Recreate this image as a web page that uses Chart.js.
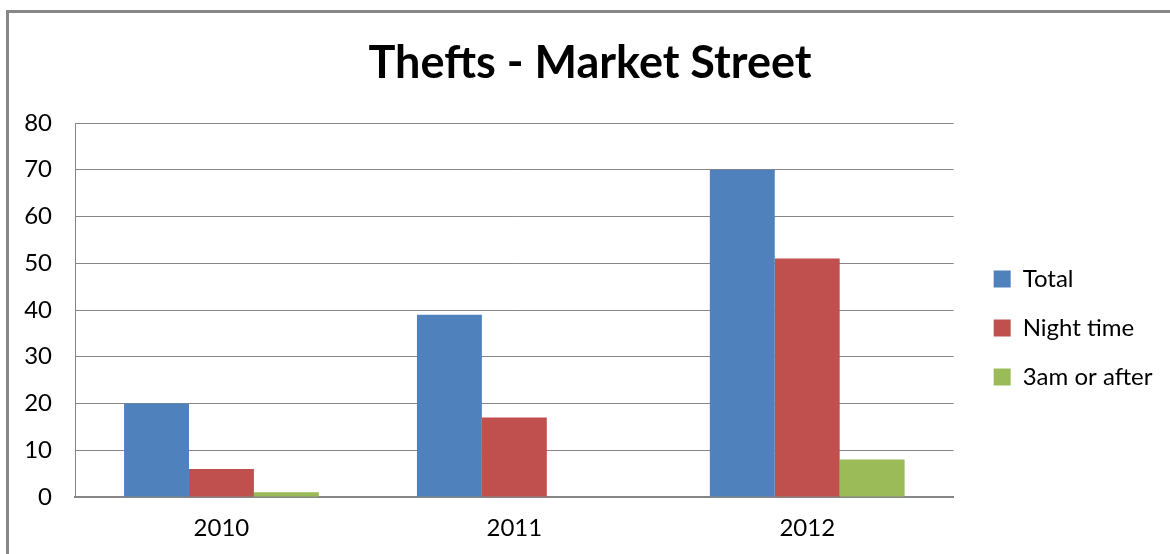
<!DOCTYPE html>
<html>
<head>
<meta charset="utf-8">
<script src="https://cdn.jsdelivr.net/npm/chart.js@4"></script>
<style>
  html, body { margin: 0; padding: 0; background: #fff; overflow: hidden; }
  #wrap { position: relative; width: 1170px; height: 554px; overflow: hidden; }
  #frame {
    position: absolute; left: 6px; top: 10px; width: 1200px; height: 600px;
    border-left: 3px solid #878787; border-top: 3px solid #878787;
  }
  #myChart { position: absolute; left: 0; top: 0; }
</style>
</head>
<body>
<div id="wrap">
  <div id="frame"></div>
  <canvas id="myChart" width="1170" height="559"></canvas>
</div>
<script>
const anni = ['2010', '2011', '2012'];
const totale = [20, 39, 70];
const notte = [6, 17, 51];
const dopoLe3 = [1, 0, 8];

const grigio = '#868686';
const fontBase = 'Lato';

const ctx = document.getElementById('myChart');

let chart = {
    type: 'bar',
    data: {
        labels: anni,
        datasets: [{
            label: 'Total',
            data: totale,
            backgroundColor: '#4F81BD'
        }, {
            label: 'Night time',
            data: notte,
            backgroundColor: '#C0504D'
        }, {
            label: '3am or after',
            data: dopoLe3,
            backgroundColor: '#9BBB59'
        }]
    },
    options: {
        responsive: false,
        animation: false,
        layout: {
            padding: { left: 22, right: 12, top: 0, bottom: 0 }
        },
        datasets: {
            bar: {
                barPercentage: 1,
                categoryPercentage: 0.665
            }
        },
        plugins: {
            tooltip: { enabled: false },
            title: {
                display: true,
                text: 'Thefts - Market Street',
                color: '#000',
                font: { family: fontBase, size: 45, weight: 'bold', lineHeight: 1.2 },
                padding: { top: 36, bottom: 33 }
            },
            legend: {
                position: 'right',
                fullSize: false,
                title: {
                    // empty title only pushes the items down a bit
                    display: true,
                    text: '',
                    font: { size: 24, lineHeight: 1 },
                    padding: 6
                },
                labels: {
                    color: '#000',
                    boxWidth: 17,
                    boxHeight: 17,
                    padding: 25,
                    font: { family: fontBase, size: 24 }
                }
            }
        },
        scales: {
            x: {
                grid: { display: false, drawTicks: false },
                border: { display: true, color: grigio, width: 2 },
                ticks: {
                    color: '#000',
                    padding: 19,
                    font: { family: fontBase, size: 24, lineHeight: 1 }
                }
            },
            y: {
                min: 0,
                max: 80,
                afterFit(scale) { scale.width = 53; },
                grid: { color: grigio, lineWidth: 1, drawTicks: false },
                border: { display: true, color: grigio, width: 1 },
                ticks: {
                    stepSize: 10,
                    color: '#000',
                    padding: 23,
                    font: { family: fontBase, size: 24 }
                }
            },
            spazio: {
                type: 'linear',
                position: 'right',
                display: true,
                afterFit(scale) { scale.width = 15; },
                grid: { display: false },
                border: { display: false },
                ticks: { display: false }
            }
        }
    }
};

const chartObj = new Chart(ctx, chart);
</script>
</body>
</html>
